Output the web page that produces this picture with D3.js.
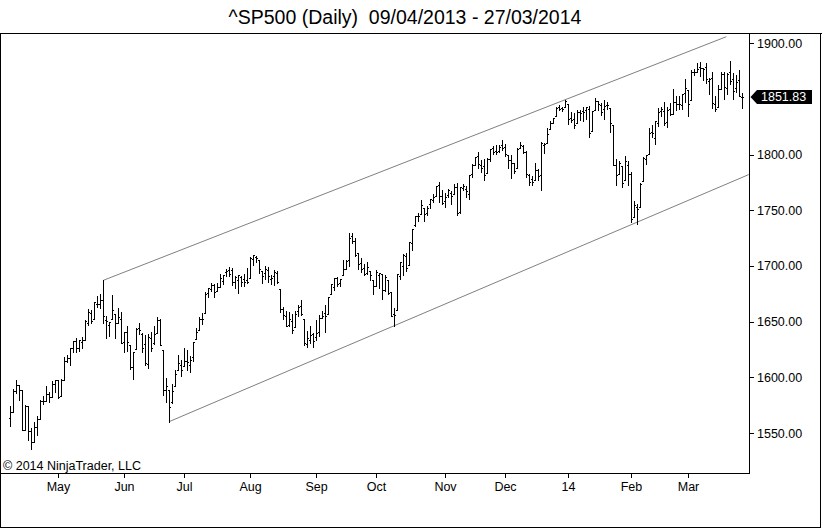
<!DOCTYPE html>
<html><head><meta charset="utf-8">
<script src="https://cdnjs.cloudflare.com/ajax/libs/d3/7.8.5/d3.min.js"></script>
<style>
body{margin:0;background:#fff}
svg{display:block}
text{font-family:"Liberation Sans",Arial,sans-serif}
</style>
</head><body>
<svg id="c" width="822" height="529"></svg>
<script>
// ---- data ----
const tradingDays = [
 ["2013-04",[9,10,11,12,15,16,17,18,19,22,23,24,25,26,29,30]],
 ["2013-05",[1,2,3,6,7,8,9,10,13,14,15,16,17,20,21,22,23,24,28,29,30,31]],
 ["2013-06",[3,4,5,6,7,10,11,12,13,14,17,18,19,20,21,24,25,26,27,28]],
 ["2013-07",[1,2,3,5,8,9,10,11,12,15,16,17,18,19,22,23,24,25,26,29,30,31]],
 ["2013-08",[1,2,5,6,7,8,9,12,13,14,15,16,19,20,21,22,23,26,27,28,29,30]],
 ["2013-09",[3,4,5,6,9,10,11,12,13,16,17,18,19,20,23,24,25,26,27,30]],
 ["2013-10",[1,2,3,4,7,8,9,10,11,14,15,16,17,18,21,22,23,24,25,28,29,30,31]],
 ["2013-11",[1,4,5,6,7,8,11,12,13,14,15,18,19,20,21,22,25,26,27,29]],
 ["2013-12",[2,3,4,5,6,9,10,11,12,13,16,17,18,19,20,23,24,26,27,30,31]],
 ["2014-01",[2,3,6,7,8,9,10,13,14,15,16,17,21,22,23,24,27,28,29,30,31]],
 ["2014-02",[3,4,5,6,7,10,11,12,13,14,18,19,20,21,24,25,26,27,28]],
 ["2014-03",[3,4,5,6,7,10,11,12,13,14,17,18,19,20,21,24,25,26,27]]
];
const dates = tradingDays.flatMap(([m, ds]) => ds.map(d => m + "-" + String(d).padStart(2, "0")));

const open = [
 1563.1,1568.6,1587.7,1593.3,1588.8,1552.4,1574.6,1552.0,1541.6,1555.3,1562.5,1578.8,1578.8,1585.2,1582.3,1593.6,
 1597.6,1582.8,1597.6,1614.4,1617.6,1626.0,1632.7,1626.7,1632.1,1633.8,1649.1,1658.1,1652.5,1665.7,1666.2,1669.4,1651.6,1646.7,1652.6,1656.6,1649.1,1652.1,
 1631.7,1640.7,1629.1,1609.3,1625.3,1644.0,1638.6,1629.9,1612.2,1635.5,1630.6,1639.8,1651.8,1624.6,1588.6,1588.8,1577.5,1592.3,1606.4,1611.1,
 1609.8,1614.3,1611.5,1618.7,1634.2,1642.9,1652.5,1657.4,1675.3,1679.6,1682.7,1677.9,1681.1,1686.2,1694.4,1696.6,1696.1,1685.2,1687.3,1690.3,1687.9,1687.8,
 1689.4,1706.1,1708.0,1705.8,1695.3,1693.4,1696.1,1688.4,1690.7,1693.9,1679.6,1661.2,1655.3,1646.8,1650.7,1645.0,1659.9,1664.3,1652.5,1630.3,1633.5,1638.9,
 1636.0,1640.7,1653.3,1657.4,1656.9,1675.1,1681.0,1689.2,1685.0,1691.7,1697.7,1705.7,1727.3,1722.4,1711.4,1702.6,1698.0,1694.1,1695.5,1687.3,
 1682.4,1691.9,1692.4,1678.8,1687.2,1676.2,1657.0,1660.9,1691.1,1699.9,1709.2,1700.5,1720.2,1736.7,1745.2,1746.5,1752.3,1747.5,1756.0,1759.4,1762.9,1772.3,1763.2,
 1758.7,1763.4,1765.7,1765.0,1770.7,1748.4,1770.0,1769.5,1764.4,1782.8,1790.7,1798.8,1790.8,1789.6,1783.5,1796.2,1806.3,1802.9,1803.5,1808.7,
 1806.6,1800.1,1794.8,1792.8,1788.4,1806.2,1807.6,1802.8,1781.7,1778.0,1777.5,1786.5,1781.5,1809.0,1810.4,1822.9,1828.0,1835.0,1843.0,1841.5,1842.6,
 1845.9,1833.2,1832.3,1828.7,1837.9,1839.0,1840.1,1841.3,1821.4,1840.5,1848.0,1844.2,1841.1,1844.7,1842.3,1827.0,1791.0,1783.0,1790.2,1777.2,1790.9,
 1782.7,1743.8,1753.4,1753.0,1776.0,1796.2,1800.5,1820.1,1814.8,1828.5,1839.0,1838.9,1829.2,1841.1,1836.8,1847.7,1845.8,1844.9,1855.1,
 1857.7,1849.2,1874.1,1874.2,1878.5,1877.9,1878.3,1866.2,1869.1,1845.1,1842.8,1858.9,1872.3,1860.1,1874.5,1867.7,1859.5,1867.1,1852.1
];
const high = [
 1573.9,1589.1,1597.4,1593.3,1588.8,1575.4,1574.6,1554.4,1560.3,1565.6,1579.6,1583.0,1592.6,1586.8,1596.7,1597.6,
 1597.6,1598.6,1618.5,1619.8,1626.0,1632.8,1635.0,1633.7,1636.0,1651.1,1661.5,1660.5,1667.5,1672.8,1674.9,1687.2,1655.5,1649.8,1674.2,1656.6,1661.9,1659.0,
 1640.4,1646.5,1629.3,1622.6,1644.4,1648.7,1640.1,1637.7,1639.3,1640.8,1646.5,1654.2,1652.5,1624.6,1599.2,1588.8,1593.8,1606.8,1620.1,1615.9,
 1626.6,1624.3,1619.0,1632.1,1644.7,1654.2,1657.9,1676.6,1680.2,1684.5,1683.7,1684.8,1693.1,1692.1,1697.6,1698.8,1698.4,1690.9,1691.9,1690.9,1693.2,1698.4,
 1707.9,1709.7,1709.2,1705.8,1695.3,1700.2,1699.4,1691.5,1696.8,1695.5,1679.6,1663.6,1659.2,1658.9,1657.0,1659.6,1664.9,1669.5,1652.5,1641.2,1646.4,1640.1,
 1651.4,1655.7,1659.2,1664.8,1672.4,1684.1,1689.1,1690.0,1688.7,1705.0,1705.5,1729.4,1729.9,1725.2,1711.4,1707.6,1701.7,1703.9,1695.5,1687.3,
 1696.6,1693.9,1692.4,1691.9,1687.2,1676.8,1662.5,1692.6,1703.4,1711.0,1711.6,1721.8,1733.5,1745.3,1747.8,1759.3,1752.3,1753.9,1759.8,1765.0,1772.1,1775.2,1768.5,
 1765.7,1768.8,1767.0,1773.7,1774.5,1770.8,1773.4,1771.8,1782.0,1791.5,1798.2,1802.3,1795.5,1795.7,1797.2,1804.8,1808.1,1808.4,1808.3,1813.6,
 1810.0,1800.1,1799.8,1792.8,1806.0,1811.5,1808.5,1803.0,1783.0,1780.9,1792.2,1786.8,1811.1,1810.9,1823.8,1829.8,1833.3,1842.8,1844.9,1842.5,1849.4,
 1845.9,1838.2,1837.2,1840.1,1840.0,1843.2,1843.2,1843.5,1839.3,1850.8,1848.0,1846.0,1849.3,1846.9,1842.3,1827.0,1796.0,1793.9,1790.2,1798.8,1793.9,
 1784.8,1758.7,1755.8,1774.1,1798.0,1799.9,1823.5,1826.6,1830.3,1841.7,1842.9,1847.5,1842.8,1846.1,1858.7,1852.9,1852.7,1854.5,1867.9,
 1857.7,1876.2,1876.5,1881.9,1883.6,1877.9,1882.4,1868.4,1874.4,1852.4,1862.3,1873.8,1874.1,1873.5,1884.0,1873.3,1871.9,1875.9,1855.6
];
const low = [
 1556.2,1568.6,1586.2,1580.0,1552.3,1552.4,1543.7,1536.0,1541.6,1548.2,1562.5,1575.8,1578.8,1577.6,1582.3,1586.5,
 1581.3,1582.8,1597.6,1614.2,1611.1,1622.7,1623.1,1623.7,1626.7,1633.8,1646.7,1648.6,1652.5,1663.5,1662.7,1648.9,1635.5,1636.9,1652.6,1635.5,1648.6,1630.7,
 1622.7,1623.6,1607.1,1598.2,1625.3,1639.3,1622.9,1610.9,1608.1,1624.0,1630.3,1639.8,1628.9,1584.3,1577.7,1560.3,1577.1,1592.3,1606.4,1601.1,
 1609.8,1606.8,1604.6,1614.7,1634.2,1642.9,1647.7,1657.4,1672.3,1677.9,1671.8,1677.9,1681.1,1684.1,1690.7,1691.1,1682.6,1680.1,1676.0,1681.9,1682.4,1684.9,
 1689.4,1700.7,1703.6,1693.3,1684.9,1688.4,1686.0,1683.4,1682.6,1684.8,1658.6,1652.6,1645.8,1646.1,1639.4,1645.0,1654.8,1656.0,1629.1,1627.5,1630.9,1627.5,
 1633.4,1637.4,1653.1,1640.6,1656.9,1675.1,1678.7,1682.0,1682.2,1691.7,1697.7,1700.4,1720.2,1708.9,1697.1,1694.9,1691.9,1693.1,1687.1,1675.0,
 1682.1,1680.3,1670.4,1677.3,1674.7,1655.0,1646.5,1660.9,1688.5,1692.1,1695.9,1700.5,1714.1,1735.7,1740.7,1746.5,1740.5,1745.5,1752.5,1757.7,1762.9,1757.2,1755.7,
 1752.7,1761.6,1755.8,1764.4,1746.2,1747.6,1767.9,1762.3,1760.6,1780.2,1790.7,1788.0,1784.7,1777.2,1783.5,1794.7,1800.6,1800.8,1802.8,1804.0,
 1798.6,1787.9,1779.1,1783.4,1788.4,1806.2,1801.8,1780.1,1772.3,1772.5,1777.5,1777.1,1768.0,1801.4,1810.3,1822.9,1828.0,1835.0,1839.8,1838.8,1842.4,
 1827.7,1829.1,1823.7,1828.7,1831.4,1830.4,1832.4,1815.5,1821.4,1840.5,1840.3,1835.2,1832.4,1840.9,1820.1,1790.3,1772.9,1783.0,1770.5,1777.2,1772.3,
 1739.7,1743.8,1737.9,1753.0,1776.0,1791.8,1800.4,1816.0,1809.2,1825.6,1835.0,1827.0,1824.6,1835.6,1836.8,1840.2,1840.7,1841.1,1847.7,
 1834.4,1849.2,1871.1,1874.2,1870.6,1867.0,1863.9,1854.4,1841.9,1839.6,1842.8,1858.9,1850.4,1854.6,1863.5,1849.7,1856.0,1852.6,1842.1
];
const close = [
 1568.6,1587.7,1593.4,1588.9,1552.4,1574.6,1552.0,1541.6,1555.3,1562.5,1578.8,1578.8,1585.2,1582.2,1593.6,1597.6,
 1582.7,1597.6,1614.4,1617.5,1626.0,1632.7,1626.7,1633.7,1633.8,1650.3,1658.8,1650.5,1667.5,1666.3,1669.2,1655.4,1650.5,1649.6,1660.1,1648.4,1654.4,1630.7,
 1640.4,1631.4,1608.9,1622.6,1643.4,1642.8,1626.1,1612.5,1636.4,1626.7,1639.0,1651.8,1628.9,1588.2,1592.4,1573.1,1588.0,1603.3,1613.2,1606.3,
 1615.0,1614.1,1615.4,1631.9,1640.5,1652.3,1652.6,1675.0,1680.2,1682.5,1676.3,1680.9,1689.4,1692.1,1695.5,1692.4,1685.9,1690.3,1691.7,1685.3,1686.0,1685.7,
 1706.9,1709.7,1707.1,1697.4,1690.9,1697.5,1691.4,1689.5,1694.2,1685.4,1661.3,1655.8,1646.1,1652.4,1642.8,1657.0,1663.5,1656.8,1630.5,1635.0,1638.2,1633.0,
 1639.8,1653.1,1655.1,1655.2,1671.7,1684.0,1689.1,1683.4,1688.0,1697.6,1704.8,1725.5,1722.3,1709.9,1701.8,1697.4,1692.8,1698.7,1691.8,1681.6,
 1695.0,1693.9,1678.7,1690.5,1676.1,1655.5,1656.4,1692.6,1703.2,1710.1,1698.1,1721.5,1733.2,1744.5,1744.7,1754.7,1746.4,1752.1,1759.8,1762.1,1772.0,1763.3,1756.5,
 1761.6,1767.9,1763.0,1770.5,1747.2,1770.6,1771.9,1767.7,1782.0,1790.6,1798.2,1791.5,1787.9,1781.4,1795.9,1804.8,1802.5,1802.8,1807.2,1805.8,
 1800.9,1795.2,1792.8,1785.0,1805.1,1808.4,1802.6,1782.2,1775.5,1775.3,1786.5,1781.0,1810.7,1809.6,1818.3,1828.0,1833.3,1842.0,1841.4,1841.1,1848.4,
 1832.0,1831.4,1826.8,1837.9,1837.5,1838.1,1842.4,1819.2,1838.9,1848.4,1845.9,1838.7,1843.8,1844.9,1828.5,1790.3,1781.6,1792.5,1774.2,1794.2,1782.6,
 1741.9,1755.2,1751.6,1773.4,1797.0,1799.8,1819.8,1819.3,1829.8,1838.6,1840.8,1828.8,1839.8,1836.3,1847.6,1845.1,1845.2,1854.3,1859.5,
 1845.7,1873.9,1873.8,1877.0,1878.0,1877.2,1867.6,1868.2,1846.3,1841.1,1858.8,1872.3,1860.8,1872.0,1866.5,1857.4,1865.6,1852.6,1851.8
];

const monthTickDates  = ["2013-05-01","2013-06-03","2013-07-01","2013-08-01","2013-09-03","2013-10-01","2013-11-01","2013-12-02","2014-01-02","2014-02-03","2014-03-03"];
const monthTickLabels = ["May","Jun","Jul","Aug","Sep","Oct","Nov","Dec","14","Feb","Mar"];
const priceTicks = [1550,1600,1650,1700,1750,1800,1900];   // 1850 is hidden behind the last-price marker
const lastPrice = 1851.83;

// channel anchors: [date, price]; ends given as bar positions
const upperChannel = [["2013-05-22",1687.18],["2013-12-31",1849.44]];
const lowerChannel = [["2013-06-24",1560.33],["2013-10-09",1646.47]];
const channelEndBar = [238.6, 246.1];

const titleText = "^SP500 (Daily)  09/04/2013 - 27/03/2014";
const copyrightText = "\u00A9 2014 NinjaTrader, LLC";

// ---- layout ----
const W = 822, H = 529;
const plotL = 0, plotR = 749, plotT = 33, plotB = 473;
const svg = d3.select("#c");

const x = d3.scaleLinear().domain([0, dates.length - 1]).range([10, 742]);
const y = d3.scaleLinear().domain([1550, 1900]).range([433, 43.3]);
const idx = d => dates.indexOf(d);

// frame
const frame = svg.append("g").attr("stroke", "#000").attr("stroke-width", 1).attr("shape-rendering", "crispEdges");
frame.append("line").attr("x1", 0).attr("x2", W).attr("y1", plotT + 0.5).attr("y2", plotT + 0.5);
frame.append("line").attr("x1", 0.5).attr("x2", 0.5).attr("y1", plotT).attr("y2", H - 1);
frame.append("line").attr("x1", W - 1.5).attr("x2", W - 1.5).attr("y1", plotT).attr("y2", H - 1);
frame.append("line").attr("x1", 0).attr("x2", W - 1).attr("y1", H - 1.5).attr("y2", H - 1.5);

// title
svg.append("text").attr("x", 405).attr("y", 24).attr("text-anchor", "middle")
  .attr("font-size", 19.5).attr("fill", "#000").style("white-space", "pre").text(titleText);

// clip for plot
svg.append("clipPath").attr("id", "plotclip").append("rect")
  .attr("x", plotL + 1).attr("y", plotT + 1).attr("width", plotR - plotL - 1).attr("height", plotB - plotT - 1);

// channel lines
function channel(anchors, endBar) {
  const i0 = idx(anchors[0][0]), i1 = idx(anchors[1][0]);
  const p0 = anchors[0][1], p1 = anchors[1][1];
  const slope = (p1 - p0) / (i1 - i0);
  const pEnd = p0 + slope * (endBar - i0);
  svg.append("line").attr("clip-path", "url(#plotclip)")
    .attr("x1", x(i0) + 0.5).attr("y1", y(p0))
    .attr("x2", x(endBar) + 0.5).attr("y2", y(pEnd))
    .attr("stroke", "#808080").attr("stroke-width", 1);
}
channel(upperChannel, channelEndBar[0]);
channel(lowerChannel, channelEndBar[1]);

// OHLC bars
const bars = svg.append("g").attr("stroke", "#000").attr("stroke-width", 1).attr("shape-rendering", "crispEdges");
dates.forEach((d, i) => {
  const cx = Math.round(x(i)) + 0.5;
  const yh = Math.round(y(high[i])), yl = Math.round(y(low[i]));
  const yo = Math.round(y(open[i])) + 0.5, yc = Math.round(y(close[i])) + 0.5;
  bars.append("line").attr("x1", cx).attr("x2", cx).attr("y1", yh).attr("y2", Math.max(yl + 1, yh + 1));
  bars.append("line").attr("x1", cx - 1.5).attr("x2", cx - 0.5).attr("y1", yo).attr("y2", yo);
  bars.append("line").attr("x1", cx + 0.5).attr("x2", cx + 1.5).attr("y1", yc).attr("y2", yc);
});

// plot borders (right axis line, bottom)
frame.raise();
const pb = svg.append("g").attr("stroke", "#000").attr("shape-rendering", "crispEdges");
pb.append("line").attr("x1", plotR + 0.5).attr("x2", plotR + 0.5).attr("y1", plotT).attr("y2", plotB + 1);
pb.append("line").attr("x1", 0).attr("x2", plotR + 1).attr("y1", plotB + 0.5).attr("y2", plotB + 0.5);

// y axis (right)
const yAxis = d3.axisRight(y).tickValues(priceTicks).tickFormat(d3.format(".2f")).tickSize(5).tickPadding(3);
const ga = svg.append("g").attr("transform", `translate(${plotR},0)`).call(yAxis);
ga.select(".domain").remove();
ga.selectAll("text").attr("font-size", 12.5).attr("font-family", '"Liberation Sans",Arial,sans-serif').attr("fill", "#000");
ga.selectAll("line").attr("shape-rendering", "crispEdges");

// x axis
const xAxis = d3.axisBottom(x).tickValues(monthTickDates.map(idx))
  .tickFormat((v, k) => monthTickLabels[k]).tickSize(5).tickPadding(4);
const gx = svg.append("g").attr("transform", `translate(0,${plotB})`).call(xAxis);
gx.select(".domain").remove();
gx.selectAll("text").attr("font-size", 12.5).attr("font-family", '"Liberation Sans",Arial,sans-serif').attr("fill", "#000");
gx.selectAll("line").attr("shape-rendering", "crispEdges");

// copyright
svg.append("text").attr("x", 3).attr("y", 470).attr("font-size", 12.5).attr("fill", "#000").text(copyrightText);

// last price marker
const ly = y(lastPrice);
svg.append("path")
  .attr("d", `M${plotR + 1.5},${ly} L${plotR + 8},${ly - 7} L812,${ly - 7} L812,${ly + 7} L${plotR + 8},${ly + 7} Z`)
  .attr("fill", "#000");
svg.append("text").attr("x", 761).attr("y", ly).attr("dy", "0.36em")
  .attr("font-size", 12.5).attr("fill", "#fff").text(d3.format(".2f")(lastPrice));
</script>
</body></html>
